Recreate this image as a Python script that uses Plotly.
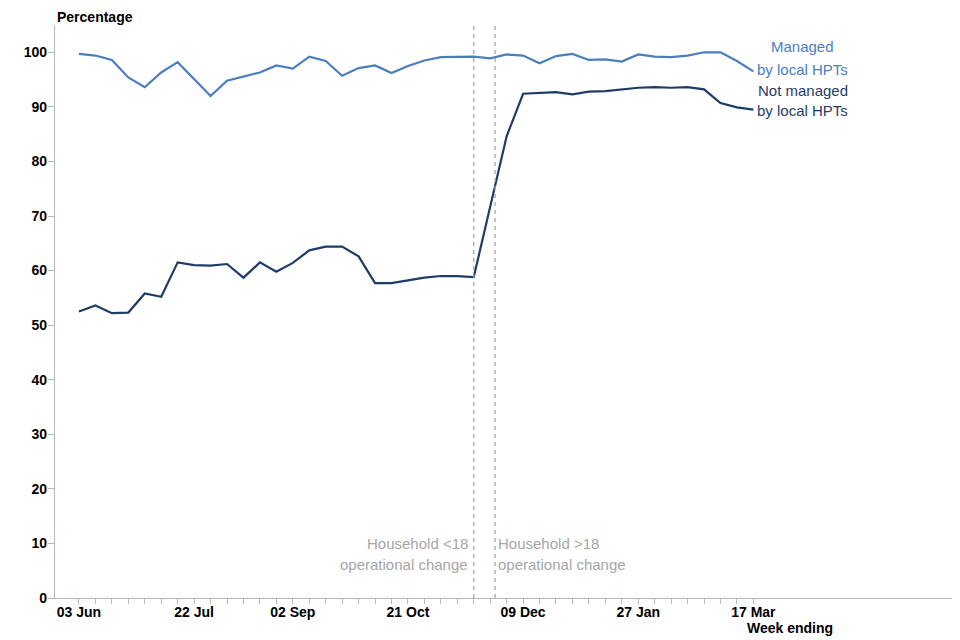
import pandas as pd
import plotly.graph_objects as go

# ---- data -------------------------------------------------------------
first_week = "2020-06-03"
n_weeks = 42
week_ending = pd.date_range(first_week, periods=n_weeks, freq="7D")

label_dates = ["2020-06-03", "2020-07-22", "2020-09-02", "2020-10-21",
               "2020-12-09", "2021-01-27", "2021-03-17"]
label_text = ["03 Jun", "22 Jul", "02 Sep", "21 Oct", "09 Dec", "27 Jan", "17 Mar"]

managed = [99.7, 99.4, 98.6, 95.4, 93.6, 96.3, 98.2, 95.0, 92.0, 94.8,
           95.5, 96.3, 97.6, 97.0, 99.2, 98.4, 95.7, 97.1, 97.6, 96.2,
           97.5, 98.5, 99.1, 99.1, 99.2, 98.9, 99.6, 99.4, 98.0, 99.3,
           99.7, 98.6, 98.7, 98.3, 99.6, 99.2, 99.1, 99.4, 100.0, 100.0,
           98.4, 96.5]

not_managed = [52.5, 53.6, 52.2, 52.3, 55.8, 55.2, 61.5, 61.0, 60.9, 61.2,
               58.7, 61.5, 59.8, 61.4, 63.7, 64.4, 64.4, 62.6, 57.7, 57.7,
               58.2, 58.7, 59.0, 59.0, 58.8, 71.7, 84.6, 92.4, 92.5, 92.7,
               92.3, 92.8, 92.9, 93.2, 93.5, 93.6, 93.5, 93.6, 93.2, 90.7,
               89.9, 89.5]

event_dates = ["2020-11-18", "2020-11-27 02:00"]
event_labels = [["Household <18", "operational change"],
                ["Household >18", "operational change"]]

series_names = [["Managed", "by local HPTs"], ["Not managed", "by local HPTs"]]

# ---- style -------------------------------------------------------------
C_MANAGED = "#4a7ebf"
C_NOT = "#1f3c68"
C_GREY = "#a6a6a6"
C_AXIS = "#b8b8b8"
FONT = "Liberation Sans, Arial, sans-serif"

fig = go.Figure()
fig.add_trace(go.Scatter(x=week_ending, y=managed, mode="lines",
                         line=dict(color=C_MANAGED, width=2.2),
                         name="Managed by local HPTs"))
fig.add_trace(go.Scatter(x=week_ending, y=not_managed, mode="lines",
                         line=dict(color=C_NOT, width=2.2),
                         name="Not managed by local HPTs"))

day = pd.Timedelta(days=1)
x_start = week_ending[0] - 10.2 * day
x_end = week_ending[0] + 372.8 * day

label_set = dict(zip(pd.to_datetime(label_dates), label_text))
ticktext = [label_set.get(d, "") for d in week_ending]

for d in event_dates:
    fig.add_shape(type="line", xref="x", yref="paper", x0=d, x1=d, y0=0, y1=1,
                  line=dict(color=C_GREY, width=1.3, dash="4px,4px"))

# event annotations
for i, (d, lines) in enumerate(zip(event_dates, event_labels)):
    xa = "right" if i == 0 else "left"
    xs = -4 if i == 0 else 1
    for j, t in enumerate(lines):
        fig.add_annotation(x=d, y=[10.0, 6.1][j], xref="x", yref="y", text=t,
                           showarrow=False, xanchor=xa, yanchor="middle", xshift=xs,
                           font=dict(family=FONT, size=15, color=C_GREY))

# series labels
lab_x = week_ending[0] + 44.0 * 7 * day
lab_y = [[101.0, 96.8], [93.0, 89.3]]
lab_c = [C_MANAGED, C_NOT]
for names, ys, c in zip(series_names, lab_y, lab_c):
    for t, yv in zip(names, ys):
        fig.add_annotation(x=lab_x, y=yv, xref="x", yref="y", text=t,
                           showarrow=False, xanchor="center", yanchor="middle",
                           font=dict(family=FONT, size=15, color=c))

fig.add_annotation(x=0, y=1.0145, xref="paper", yref="paper", text="Percentage",
                   showarrow=False, xanchor="left", yanchor="middle",
                   font=dict(family=FONT, size=14, color="black", weight="bold"))
fig.add_annotation(x=0.8167, y=-0.0524, xref="paper", yref="paper", text="Week ending",
                   showarrow=False, xanchor="center", yanchor="middle",
                   font=dict(family=FONT, size=14, color="black", weight="bold"))

fig.update_layout(
    width=952, height=632,
    margin=dict(l=47, r=5, t=17, b=42),
    plot_bgcolor="white", paper_bgcolor="white",
    showlegend=False,
    font=dict(family=FONT),
    xaxis=dict(type="date", range=[x_start, x_end], automargin=False,
               tickvals=list(week_ending), ticktext=ticktext,
               ticks="outside", ticklen=5, tickcolor=C_AXIS, tickwidth=1,
               ticklabelstandoff=-4,
               showline=True, linecolor=C_AXIS, linewidth=1.3,
               showgrid=False, zeroline=False,
               tickfont=dict(family=FONT, size=14, color="black", weight="bold")),
    yaxis=dict(range=[0, 105], tickvals=list(range(0, 101, 10)), automargin=False,
               ticks="outside", ticklen=6, tickcolor=C_AXIS, tickwidth=1,
               ticklabelstandoff=-2,
               showline=True, linecolor=C_AXIS, linewidth=1.3,
               showgrid=False, zeroline=False,
               tickfont=dict(family=FONT, size=14, color="black", weight="bold")),
)

fig.write_html("out.html")
